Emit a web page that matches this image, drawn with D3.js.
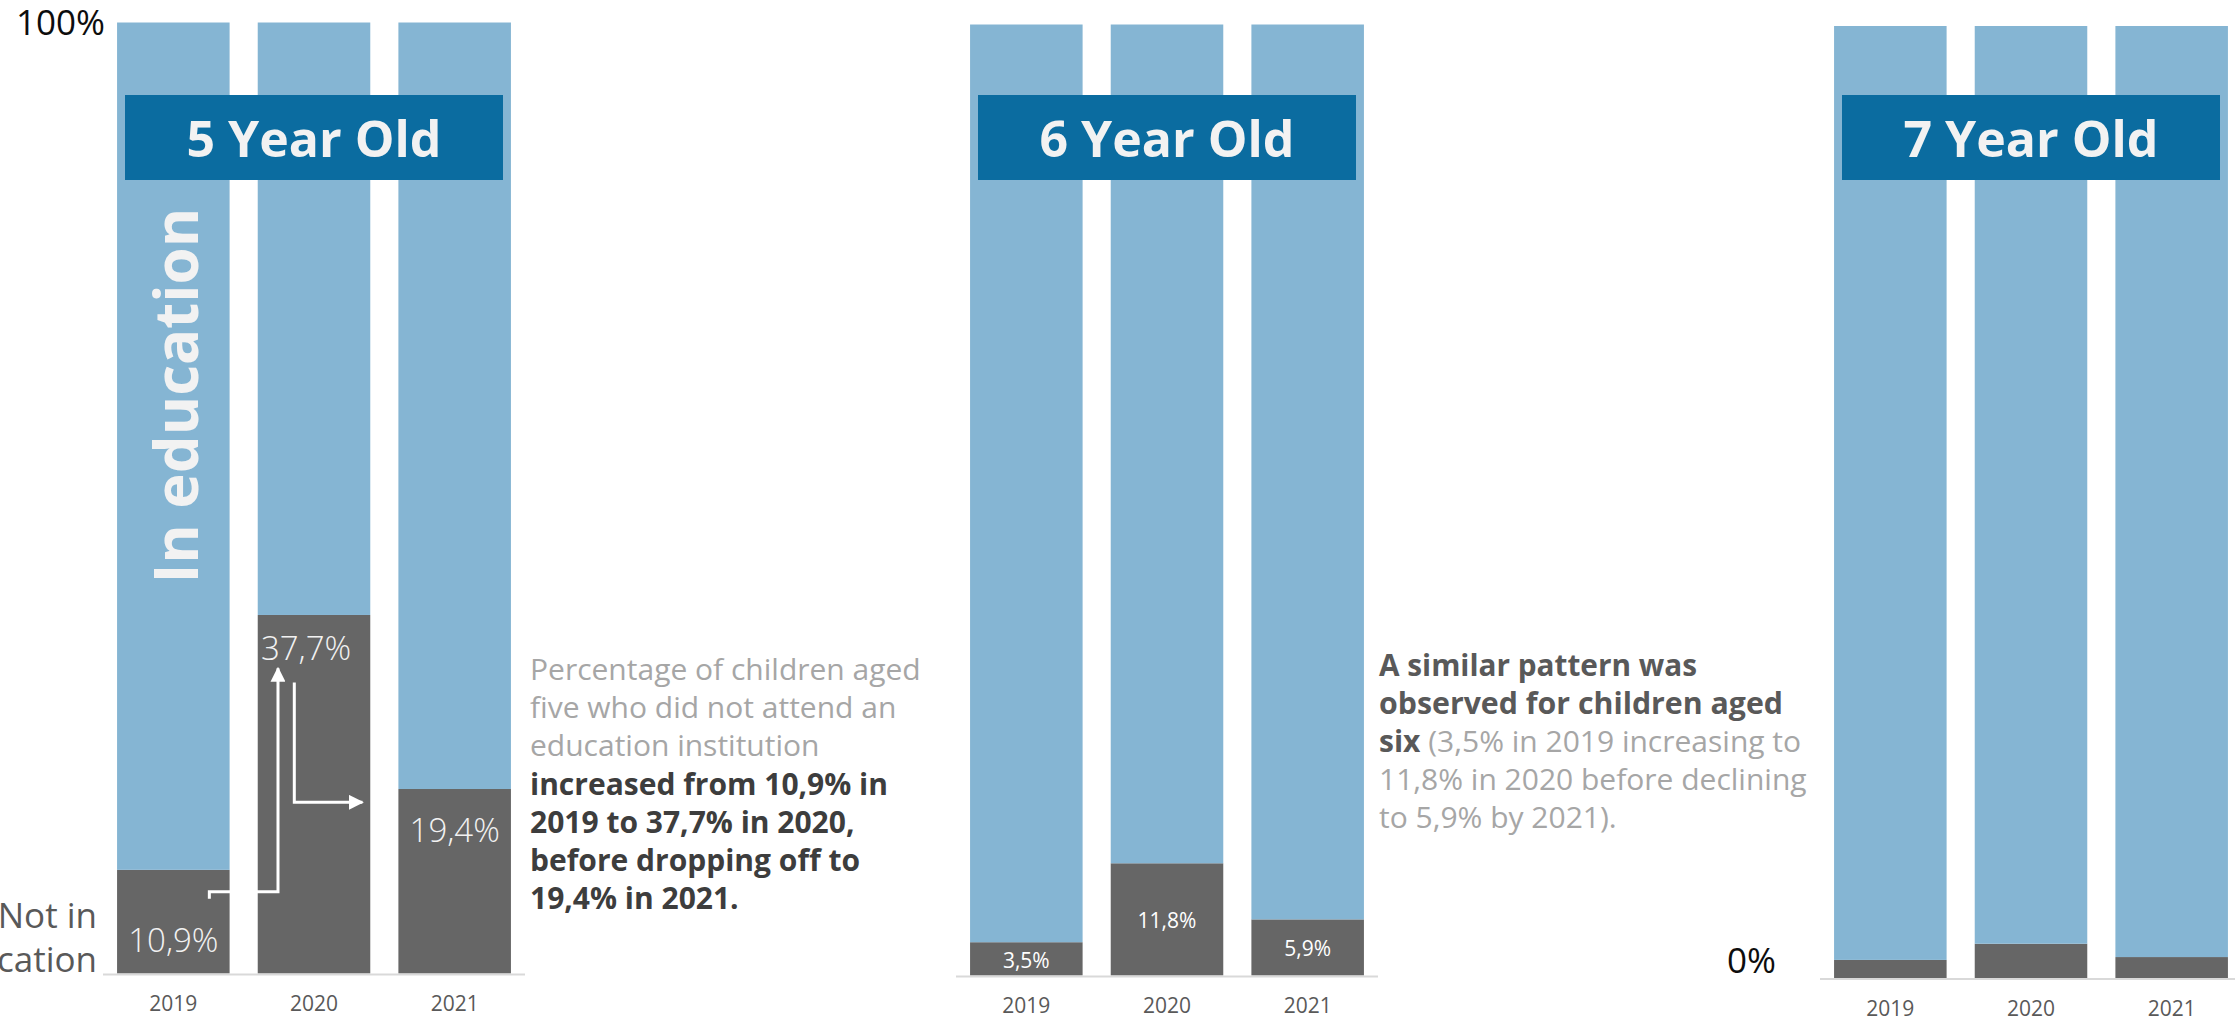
<!DOCTYPE html>
<html>
<head>
<meta charset="utf-8">
<script src="https://cdn.jsdelivr.net/npm/d3@7"></script>
<style>
  html, body { margin: 0; padding: 0; background: #ffffff; overflow: hidden; }
  svg { display: block; font-family: 'Open Sans', 'Noto Sans', sans-serif; }
</style>
</head>
<body>
<svg id="chart" width="2235" height="1021"></svg>
<script>
// ---- Data ---------------------------------------------------------------
const years = ["2019", "2020", "2021"];
const ageGroups = ["5 Year Old", "6 Year Old", "7 Year Old"];
// Share of children NOT attending an education institution (%)
const notInEducation5 = [10.9, 37.7, 19.4];
const notInEducation6 = [3.5, 11.8, 5.9];
const notInEducation7 = [1.9, 3.6, 2.2];
const axisTickLabels = ["0%", "100%"];

// ---- Styles -------------------------------------------------------------
const COLOR_IN = "#85b5d3";
const COLOR_OUT = "#666666";
const COLOR_TITLE = "#0b6ca0";
const COLOR_LIGHT_TEXT = "#f2f2f2";
const COLOR_AXIS = "#d9d9d9";
const COLOR_YEAR = "#595959";
const COLOR_NOTE = "#a6a6a6";

const svg = d3.select("#chart");
const fmt = v => d3.format(".1f")(v).replace(".", ",") + "%";

// arrowhead for the annotation connectors
svg.append("defs").append("marker")
  .attr("id", "arrowhead")
  .attr("viewBox", "0 0 10 10")
  .attr("refX", 9).attr("refY", 5)
  .attr("markerUnits", "userSpaceOnUse")
  .attr("markerWidth", 15).attr("markerHeight", 15)
  .attr("orient", "auto")
  .append("path").attr("d", "M0,0 L10,5 L0,10 Z").attr("fill", "#ffffff");

// panel layout
const panels = [
  { age: ageGroups[0], values: notInEducation5, x0: 103, x1: 525, top: 22.5, bottom: 973.5, labels: "large" },
  { age: ageGroups[1], values: notInEducation6, x0: 956, x1: 1378, top: 24.5, bottom: 975.5, labels: "small" },
  { age: ageGroups[2], values: notInEducation7, x0: 1820, x1: 2242, top: 26, bottom: 978, labels: "none" }
];

// hand-placed label offsets (dx, dy from the top of the grey segment) for the 5-year panel
const largeLabelNudge = [{ dx: 0, dy: 82 }, { dx: -8, dy: 45.5 }, { dx: 0, dy: 52.7 }];

panels.forEach(p => {
  const x = d3.scaleBand().domain(years).range([p.x0, p.x1])
    .paddingInner(0.2).paddingOuter(0.1);
  const y = d3.scaleLinear().domain([0, 100]).range([p.bottom, p.top]);
  p.x = x; p.y = y;

  const rows = years.map((yr, i) => ({ year: yr, notIn: p.values[i], inEdu: 100 - p.values[i] }));
  const series = d3.stack().keys(["notIn", "inEdu"])(rows);

  const g = svg.append("g").attr("class", "panel");

  g.selectAll("g.series").data(series).join("g")
    .attr("class", "series")
    .attr("fill", d => d.key === "notIn" ? COLOR_OUT : COLOR_IN)
    .selectAll("rect").data(d => d).join("rect")
      .attr("x", d => x(d.data.year))
      .attr("width", x.bandwidth())
      .attr("y", d => y(d[1]))
      .attr("height", d => y(d[0]) - y(d[1]));

  // baseline
  g.append("line")
    .attr("x1", p.x0).attr("x2", p.x1)
    .attr("y1", p.bottom + 1).attr("y2", p.bottom + 1)
    .attr("stroke", COLOR_AXIS).attr("stroke-width", 2);

  // year axis
  const ax = g.append("g").attr("transform", `translate(0,${p.bottom})`)
    .call(d3.axisBottom(x).tickSize(0).tickPadding(23));
  ax.select(".domain").remove();
  ax.selectAll("text")
    .attr("fill", COLOR_YEAR)
    .style("font-size", "21px")
    .style("font-family", "'Open Sans', sans-serif");

  // value labels
  if (p.labels === "large") {
    g.selectAll("text.val").data(rows).join("text")
      .attr("class", "val")
      .attr("x", (d, i) => x(d.year) + x.bandwidth() / 2 + largeLabelNudge[i].dx)
      .attr("y", (d, i) => y(d.notIn) + largeLabelNudge[i].dy)
      .attr("text-anchor", "middle")
      .attr("fill", COLOR_LIGHT_TEXT)
      .style("font-size", "33px").style("font-weight", 300)
      .text(d => fmt(d.notIn));
  } else if (p.labels === "small") {
    g.selectAll("text.val").data(rows).join("text")
      .attr("class", "val")
      .attr("x", d => x(d.year) + x.bandwidth() / 2)
      .attr("y", d => (y(d.notIn) + y(0)) / 2 + 9)
      .attr("text-anchor", "middle")
      .attr("fill", "#ffffff")
      .style("font-size", "21px")
      .text(d => fmt(d.notIn));
  }

  // age title box
  const cx = (x(years[0]) + x(years[2]) + x.bandwidth()) / 2;
  g.append("rect")
    .attr("x", cx - 189).attr("y", 95)
    .attr("width", 378).attr("height", 85)
    .attr("fill", COLOR_TITLE);
  g.append("text")
    .attr("x", cx).attr("y", 157)
    .attr("text-anchor", "middle")
    .attr("fill", COLOR_LIGHT_TEXT)
    .style("font-size", "50px").style("font-weight", 700)
    .text(p.age);
});

// ---- Panel 1 decorations -------------------------------------------------
const p1 = panels[0];
const bw = p1.x.bandwidth();

// vertical series label inside the first bar
svg.append("text")
  .attr("transform", `translate(${p1.x(years[0]) + bw * 0.72},${p1.y(41)}) rotate(-90)`)
  .attr("fill", COLOR_LIGHT_TEXT)
  .style("font-size", "60px").style("font-weight", 700)
  .text("In education");

// series label for the grey segment (runs off the left edge)
const notInLabel = svg.append("text")
  .attr("text-anchor", "end")
  .attr("fill", COLOR_YEAR)
  .style("font-size", "35px");
notInLabel.append("tspan").attr("x", 97).attr("y", 928).text("Not in");
notInLabel.append("tspan").attr("x", 97).attr("y", 972).text("education");

// connector arrows: 2019 -> 2020 and 2020 -> 2021
const arrowUp = d3.path();
arrowUp.moveTo(p1.x(years[0]) + bw * 0.82, p1.y(8.6) + 7);
arrowUp.lineTo(p1.x(years[0]) + bw * 0.82, p1.y(8.6));
arrowUp.lineTo(p1.x(years[1]) + bw * 0.18, p1.y(8.6));
arrowUp.lineTo(p1.x(years[1]) + bw * 0.18, p1.y(32.1));
svg.append("path").attr("d", arrowUp.toString())
  .attr("fill", "none").attr("stroke", "#ffffff").attr("stroke-width", 3)
  .attr("marker-end", "url(#arrowhead)");

const arrowRight = d3.path();
arrowRight.moveTo(p1.x(years[1]) + bw * 0.325, p1.y(30.6));
arrowRight.lineTo(p1.x(years[1]) + bw * 0.325, p1.y(18.0));
arrowRight.lineTo(p1.x(years[2]) - 36, p1.y(18.0));
svg.append("path").attr("d", arrowRight.toString())
  .attr("fill", "none").attr("stroke", "#ffffff").attr("stroke-width", 3)
  .attr("marker-end", "url(#arrowhead)");

// ---- Scale end labels ---------------------------------------------------
svg.append("text")
  .attr("x", 105).attr("y", p1.y(100) + 12.5)
  .attr("text-anchor", "end").attr("fill", "#0d0d0d")
  .style("font-size", "35px")
  .text(axisTickLabels[1]);
svg.append("text")
  .attr("x", 1776).attr("y", panels[2].y(0) - 5)
  .attr("text-anchor", "end").attr("fill", "#0d0d0d")
  .style("font-size", "35px")
  .text(axisTickLabels[0]);

// ---- Commentary text ----------------------------------------------------
// each line is a list of runs; an optional `fit` squeezes the whole line to that width
function noteBlock(x, y0, lineH, lines) {
  const t = svg.append("text").style("font-size", "30px");
  lines.forEach((line, i) => {
    line.runs.forEach((s, j) => {
      const ts = t.append("tspan").text(s.text)
        .attr("fill", s.color)
        .style("font-weight", s.bold ? 700 : 400);
      if (j === 0) ts.attr("x", x).attr("y", y0 + i * lineH);
      if (line.fit) ts.attr("textLength", line.fit).attr("lengthAdjust", "spacingAndGlyphs");
    });
  });
}

const DARK = "#3d3d3d";
const MID = "#595959";
noteBlock(530, 680, 38.2, [
  { runs: [{ text: "Percentage of children aged", color: COLOR_NOTE }] },
  { runs: [{ text: "five who did not attend an", color: COLOR_NOTE }] },
  { runs: [{ text: "education institution", color: COLOR_NOTE }] },
  { runs: [{ text: "increased from 10,9% in", color: DARK, bold: true }] },
  { runs: [{ text: "2019 to 37,7% in 2020,", color: DARK, bold: true }] },
  { runs: [{ text: "before dropping off to", color: DARK, bold: true }] },
  { runs: [{ text: "19,4% in 2021.", color: DARK, bold: true }] }
]);

noteBlock(1379, 676, 38.1, [
  { runs: [{ text: "A similar pattern was", color: MID, bold: true }], fit: 318 },
  { runs: [{ text: "observed for children aged", color: MID, bold: true }], fit: 404 },
  { runs: [{ text: "six", color: MID, bold: true }, { text: " (3,5% in 2019 increasing to", color: COLOR_NOTE }] },
  { runs: [{ text: "11,8% in 2020 before declining", color: COLOR_NOTE }] },
  { runs: [{ text: "to 5,9% by 2021).", color: COLOR_NOTE }] }
]);
</script>
</body>
</html>
